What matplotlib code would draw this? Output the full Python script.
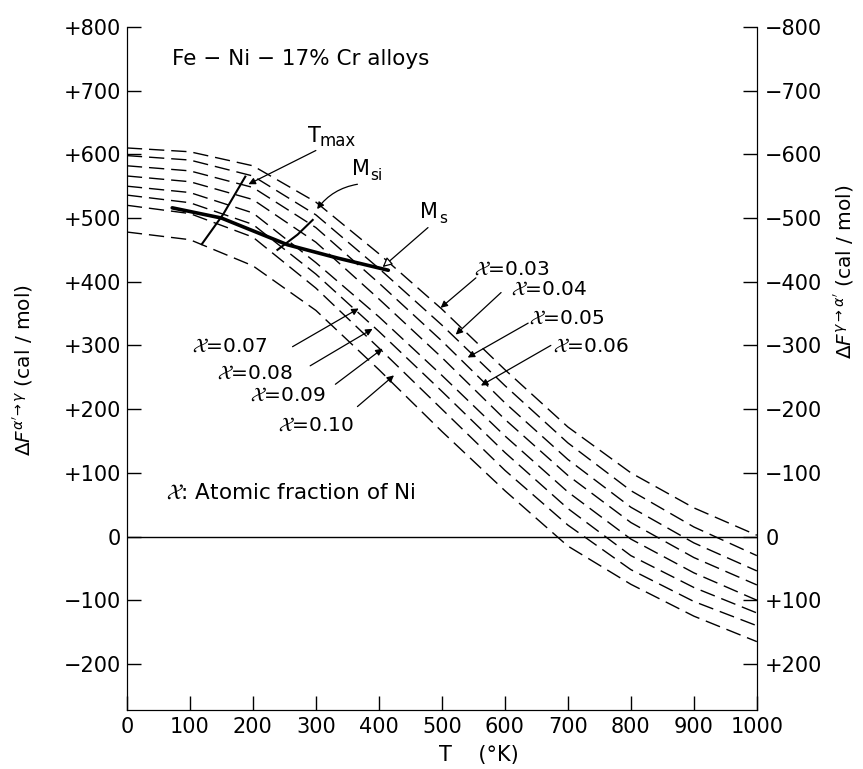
import matplotlib.pyplot as plt
from matplotlib.ticker import FuncFormatter

# temperature grid (K) and free-energy curves (cal/mol) for each Ni fraction
temps = [0, 100, 200, 300, 400, 500, 600, 700, 800, 900, 1000]
ni_fractions = ['0.03', '0.04', '0.05', '0.06', '0.07', '0.08', '0.09', '0.10']
df_003 = [610, 604, 582, 525, 444, 357, 262, 172, 100, 45, 2]
df_004 = [598, 591, 566, 505, 421, 332, 237, 147, 72, 15, -30]
df_005 = [582, 574, 548, 485, 398, 307, 210, 121, 46, -10, -54]
df_006 = [566, 557, 529, 462, 373, 281, 184, 96, 22, -33, -76]
df_007 = [550, 540, 508, 430, 345, 253, 158, 70, -4, -57, -100]
df_008 = [536, 524, 490, 412, 322, 228, 132, 44, -30, -80, -120]
df_009 = [520, 507, 470, 390, 296, 200, 104, 18, -52, -102, -140]
df_010 = [478, 466, 425, 355, 262, 165, 72, -15, -75, -125, -165]

# Ms, Msi and Tmax lines
ms_temps = [72, 150, 255, 335, 415]
ms_values = [516, 500, 458, 437, 418]
msi_temps = [239, 271, 295]
msi_values = [450, 474, 497]
tmax_temps = [119, 153, 188]
tmax_values = [459, 506, 565]

x_ticks = [0, 100, 200, 300, 400, 500, 600, 700, 800, 900, 1000]
y_ticks = [-200, -100, 0, 100, 200, 300, 400, 500, 600, 700, 800]

curves = [df_003, df_004, df_005, df_006, df_007, df_008, df_009, df_010]


def left_fmt(v, pos):
    if v == 0:
        return '0'
    return ('+' if v > 0 else '\u2212') + str(int(abs(v)))


def right_fmt(v, pos):
    return left_fmt(-v, pos)


fig = plt.figure(figsize=(8.63, 7.69), dpi=100)
ax = fig.add_axes([0.147, 0.077, 0.730, 0.888])

for vals in curves:
    ax.plot(temps, vals, color='k', lw=1.0, dashes=(11, 5))

ax.axhline(0, color='k', lw=1.0)
ax.plot(ms_temps, ms_values, color='k', lw=2.6, solid_capstyle='round')
ax.plot(msi_temps, msi_values, color='k', lw=1.5)
ax.plot(tmax_temps, tmax_values, color='k', lw=1.5)

ax.set_xlim(0, 1000)
ax.set_ylim(-272, 800)
ax.set_xticks(x_ticks)
ax.set_yticks(y_ticks)
ax.yaxis.set_major_formatter(FuncFormatter(left_fmt))
ax.tick_params(direction='in', length=10, width=1, labelsize=15)
ax.tick_params(axis='x', pad=5)
ax.tick_params(axis='y', pad=4)
ax.spines['top'].set_visible(False)

ax2 = ax.twinx()
ax2.set_ylim(ax.get_ylim())
ax2.set_yticks(y_ticks)
ax2.yaxis.set_major_formatter(FuncFormatter(right_fmt))
ax2.tick_params(direction='in', length=10, width=1, labelsize=15, pad=6)
ax2.spines['top'].set_visible(False)

# text labels
ax.text(72, 749, 'Fe \u2212 Ni \u2212 17% Cr alloys', fontsize=15.5, va='center')
ax.text(62, 68, r'$\mathcal{X}$: Atomic fraction of Ni', fontsize=15.5, va='center')

arrow = dict(arrowstyle='-|>', color='k', lw=0.9, mutation_scale=10,
             shrinkA=0, shrinkB=0)

ax.text(288, 628, 'T', fontsize=15, va='center')
ax.text(306, 621, 'max', fontsize=12, va='center')
ax.annotate('', xy=(193, 553), xytext=(300, 606), arrowprops=arrow)

ax.text(358, 577, 'M', fontsize=15, va='center')
ax.text(386, 566, 'si', fontsize=11, va='center')
ax.annotate('', xy=(302, 514), xytext=(366, 553),
            arrowprops=dict(arrow, connectionstyle='arc3,rad=0.2'))

ax.text(466, 510, 'M', fontsize=15, va='center')
ax.text(495, 499, 's', fontsize=11, va='center')
ax.annotate('', xy=(406, 423), xytext=(478, 485),
            arrowprops=dict(arrowstyle='-|>', color='k', lw=0.9,
                            mutation_scale=14, fc='white',
                            shrinkA=0, shrinkB=0))

label_pos = [(551, 419), (610, 388), (639, 343), (677, 299),
             (104, 298), (143, 256), (196, 222), (240, 175)]
arrow_from = [(554, 406), (594, 383), (637, 335), (673, 300),
              (263, 298), (291, 268), (331, 239), (366, 204)]
arrow_to = [(498, 359), (522, 317), (541, 281), (562, 237),
            (368, 358), (390, 326), (406, 295), (424, 253)]
for frac, lp, af, at in zip(ni_fractions, label_pos, arrow_from, arrow_to):
    ax.text(lp[0], lp[1], r'$\mathcal{X}$=' + frac, fontsize=14.5, va='center')
    ax.annotate('', xy=at, xytext=af, arrowprops=arrow)

fig.text(0.026, 1 - 370 / 769, r"$\Delta F^{\alpha'\!\rightarrow\gamma}$ (cal / mol)",
         rotation=90, ha='center', va='center', fontsize=14.5)
fig.text(0.978, 1 - 272 / 769, r"$\Delta F^{\gamma\rightarrow\alpha'}$ (cal / mol)",
         rotation=90, ha='center', va='center', fontsize=14.5)
fig.text(0.555, 0.018, 'T    (\u00b0K)', ha='center', va='center', fontsize=15)

plt.savefig('out.png', dpi=100)
